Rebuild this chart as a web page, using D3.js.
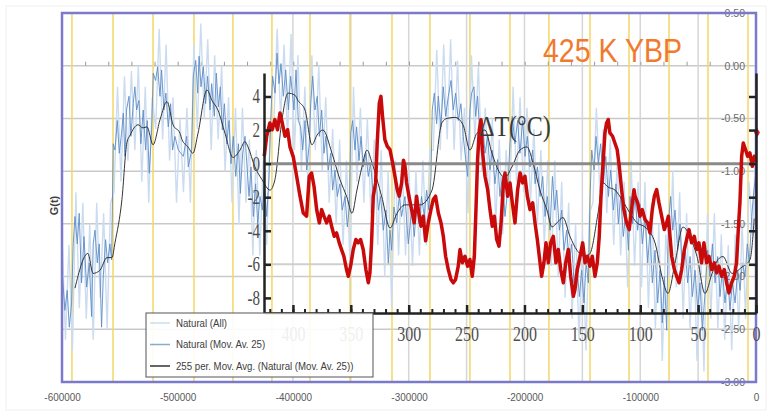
<!DOCTYPE html>
<html>
<head>
<meta charset="utf-8">
<script src="https://cdn.jsdelivr.net/npm/d3@7"></script>
<style>
	body { margin: 0; background: #fff; }
	svg { display: block; }
</style>
</head>
<body>
<div id="chart"></div>
<script>
// ---- outer chart: G(t), time in kyr (negative = past) ----
const yearTicks = [-600, -500, -400, -300, -200, -100, 0]
const gTicks = [0.5, 0, -0.5, -1, -1.5, -2, -2.5, -3]
const yellowMarks = [-591.4, -555.9, -521.3, -485.9, -452.2, -418.5, -385.6, -351.0, -314.7, -281.9, -247.3, -212.7, -179.0, -143.5, -109.8, -75.2, -41.5, -6.9]

// Natural (All), sampled every 3 kyr from -600 kyr
const natAllStart = -600
const natAllStep = 3
const natAll = [
	-1.6, -2.6, -1.7, -2.7, -1.2, -2.3, -1.3, -2.4, -1.5, -2.6, -1.3, -2.2, -1.4, -2.5, -1.3, -1.2,
	-0.2, -1.1, -0.1, -0.9, -0.05, -0.8, 0.0, -1.1, -0.2, -1.3, -0.3, -0.6, 0.35, -0.7, 0.2, -0.9,
	-0.3, -1.3, -0.5, -1.2, -0.4, -1.3, 0.2, -0.6, 0.4, -0.5, 0.25, -0.8, 0.1, -0.7, 0.0, -1.0,
	-0.3, -1.3, -0.4, -1.5, -0.4, -1.3, -0.7, -1.8, -0.8, -1.8, -0.9, -1.7, -0.6, -0.6, 0.35, -0.5,
	0.2, -0.7, 0.3, -0.8, 0.1, -1.0, -0.2, -1.3, 0.1, -0.8, 0.0, -1.0, -0.3, -1.3, -0.6, -1.5,
	-0.7, -1.7, -0.9, -1.9, -0.2, -1.1, -0.4, -1.3, -0.5, -1.4, -0.7, -1.7, -0.8, -2.0, -1.0, -2.3,
	-0.9, -1.8, -0.9, -1.8, -1.0, -1.9, -1.0, -1.8, -0.9, -1.7, -0.8, -0.8, 0.15, -0.8, 0.2, -0.7,
	0.25, -0.8, 0.05, -0.9, -0.4, -1.4, 0.1, -0.7, 0.0, -1.0, -0.4, -1.3, -0.5, -1.5, -0.7, -1.6,
	-0.8, -1.3, -0.2, -1.1, -0.3, -1.2, -0.4, -1.3, -0.6, -1.5, -0.8, -1.7, -0.9, -1.9, -0.9, -2.0,
	-1.1, -2.2, -1.3, -2.4, -1.5, -2.6, -1.6, -2.7, -1.4, -1.3, -0.4, -1.2, -0.6, -1.4, -0.7, -1.7,
	-0.9, -1.8, -1.1, -2.1, -0.9, -1.9, -1.1, -2.1, -1.1, -2.3, -1.3, -2.5, -1.5, -2.8, -1.6, -2.0,
	-1.0, -2.1, -1.2, -2.4, -1.4, -2.5, -1.6, -2.8, -1.7, -2.9, -1.4, -2.4, -1.4, -2.5, -1.6, -2.6,
	-1.7, -2.7, -1.6, -2.5, -1.5, -2.4, -1.1, -1.6, -0.7,
]

// Natural (Mov. Av. 25): [kyr, G]
const natMA25 = [
	[-600.4, -1.87], [-597.5, -2.32], [-595.5, -2.13], [-593.7, -2.48], [-591.7, -2.25], [-590.3, -1.69], [-588.8, -1.43], [-586.8, -1.69],
	[-585.1, -1.40], [-583.1, -2.06], [-581.0, -1.62], [-578.7, -2.10], [-576.4, -1.87], [-574.4, -2.38], [-573.0, -1.69], [-571.5, -1.56],
	[-569.5, -1.87], [-567.8, -1.69], [-565.8, -2.48], [-564.3, -2.00], [-562.3, -1.65], [-560.6, -1.87], [-558.6, -1.69], [-557.1, -1.84],
	[-555.7, -0.74], [-554.2, -0.80], [-552.2, -0.52], [-550.5, -0.83], [-548.5, -0.64], [-547.0, -0.45], [-545.6, -0.86], [-544.2, -0.42],
	[-542.1, -0.29], [-540.4, -0.67], [-538.4, -0.36], [-537.0, -0.20], [-535.5, -0.42], [-533.5, -0.33], [-531.8, -0.74], [-529.8, -0.42],
	[-527.7, -0.80], [-526.3, -0.52], [-524.6, -1.02], [-522.5, -0.61], [-521.1, -0.07], [-519.1, -0.14], [-517.3, -0.01], [-515.3, -0.29],
	[-513.9, -0.04], [-511.9, -0.42], [-510.2, -0.26], [-508.1, -0.58], [-506.1, -0.36], [-504.4, -0.80], [-502.4, -0.67], [-499.4, -0.80],
	[-495.1, -0.86], [-492.2, -0.67], [-490.8, -0.96], [-487.9, -0.80], [-486.5, -0.10], [-484.4, 0.05], [-482.7, -0.26], [-481.5, 0.09],
	[-479.8, -0.20], [-477.8, -0.01], [-475.8, -0.36], [-474.1, -0.10], [-472.0, -0.42], [-470.6, -0.17], [-468.3, -0.48], [-466.6, -0.07],
	[-464.8, -0.39], [-463.1, -0.20], [-461.4, -0.61], [-459.6, -0.36], [-457.6, -0.74], [-455.6, -0.52], [-453.9, -0.93], [-451.9, -0.67],
	[-449.8, -1.05], [-447.5, -0.74], [-445.8, -1.21], [-443.8, -0.83], [-441.8, -0.67], [-439.8, -0.99], [-438.3, -1.24], [-436.6, -0.96],
	[-434.6, -1.43], [-432.6, -1.12], [-430.8, -1.50], [-428.8, -1.24], [-426.8, -1.37], [-425.1, -1.12], [-423.0, -1.43], [-421.0, -1.05],
	[-419.6, -0.52], [-417.9, -0.10], [-415.8, -0.26], [-414.1, 0.12], [-412.4, -0.17], [-410.7, 0.02], [-408.6, -0.29], [-406.6, -0.04],
	[-404.3, -0.42], [-402.3, -0.10], [-399.4, -0.42], [-397.7, -0.04], [-395.7, -0.52], [-393.7, -0.58], [-391.9, -0.80], [-389.9, -0.52],
	[-388.5, -0.99], [-386.2, -0.74], [-385.0, -0.36], [-383.3, -0.10], [-381.3, -0.42], [-379.3, -0.29], [-377.5, -0.67], [-375.5, -0.42],
	[-373.5, -0.83], [-371.8, -0.67], [-369.8, -0.99], [-367.7, -0.83], [-366.0, -1.18], [-364.0, -0.99], [-362.0, -1.24], [-359.7, -1.12],
	[-357.7, -1.37], [-355.3, -1.24], [-353.3, -1.53], [-351.6, -1.34], [-350.4, -0.64], [-348.7, -0.52], [-346.7, -0.80], [-345.3, -0.58],
	[-343.2, -0.90], [-341.5, -0.67], [-339.5, -0.96], [-337.2, -0.83], [-335.2, -1.05], [-333.2, -0.93], [-330.9, -1.24], [-328.6, -1.05],
	[-326.5, -1.37], [-324.5, -1.24], [-322.2, -1.56], [-319.9, -1.37], [-317.9, -1.88], [-316.4, -1.56], [-315.0, -1.75], [-313.0, -1.34],
	[-310.7, -1.49], [-308.4, -1.24], [-306.4, -1.43], [-303.5, -1.24], [-300.6, -1.69], [-297.7, -1.37], [-295.4, -1.62], [-293.4, -1.31],
	[-291.4, -1.50], [-289.1, -1.24], [-286.8, -1.43], [-284.8, -1.18], [-282.8, -1.37], [-281.0, -1.05], [-279.9, -0.42], [-278.1, -0.26],
	[-276.1, -0.55], [-274.7, -0.29], [-272.4, -0.58], [-270.4, -0.20], [-268.3, -0.48], [-266.0, -0.29], [-263.7, -0.14], [-261.7, -0.42],
	[-259.7, -0.26], [-257.4, -0.52], [-255.1, -0.36], [-253.1, -0.67], [-251.0, -0.89], [-249.3, -1.05], [-247.3, -0.42], [-245.9, -0.26],
	[-243.8, -0.20], [-242.4, -0.48], [-240.7, -0.29], [-238.7, -0.67], [-236.6, -0.52], [-234.3, -0.83], [-232.0, -0.67], [-230.0, -0.99],
	[-228.0, -0.80], [-225.7, -1.12], [-223.4, -0.89], [-221.4, -1.24], [-219.3, -1.05], [-217.0, -1.43], [-214.7, -1.18], [-212.7, -0.74],
	[-210.7, -0.48], [-208.4, -0.74], [-206.1, -0.52], [-204.1, -0.83], [-201.7, -0.52], [-199.7, -0.86], [-197.7, -0.67], [-195.4, -0.96],
	[-193.0, -0.80], [-191.0, -1.12], [-189.0, -0.96], [-186.7, -1.24], [-184.4, -1.05], [-182.4, -1.43], [-180.4, -1.24], [-178.1, -1.56],
	[-176.0, -1.05], [-174.0, -1.37], [-172.3, -1.18], [-170.0, -1.56], [-168.0, -1.37], [-166.0, -1.75], [-163.7, -1.56], [-161.3, -1.87],
	[-159.3, -1.69], [-157.3, -2.06], [-155.0, -1.87], [-152.7, -2.19], [-150.7, -1.94], [-148.7, -2.25], [-146.9, -1.87], [-144.9, -2.06],
	[-143.5, -1.24], [-142.0, -0.80], [-140.0, -0.99], [-138.3, -0.67], [-136.3, -0.93], [-134.3, -0.74], [-132.0, -1.12], [-129.9, -0.86],
	[-127.6, -1.24], [-125.6, -0.99], [-123.3, -1.37], [-121.0, -1.12], [-119.0, -1.50], [-117.0, -1.24], [-114.7, -1.62], [-112.4, -1.37],
	[-110.3, -1.75], [-108.9, -1.24], [-106.6, -1.50], [-104.6, -1.24], [-102.3, -1.56], [-100.3, -1.31], [-98.3, -1.69], [-96.0, -1.43],
	[-93.6, -1.87], [-91.6, -1.56], [-89.6, -2.06], [-87.3, -1.75], [-85.0, -2.25], [-83.0, -1.94], [-81.0, -2.44], [-79.2, -2.00],
	[-77.2, -2.51], [-75.8, -1.50], [-73.8, -1.24], [-72.0, -1.56], [-70.0, -1.37], [-67.7, -1.75], [-65.7, -1.50], [-63.7, -1.94],
	[-61.4, -1.69], [-59.1, -2.06], [-57.0, -1.81], [-55.0, -2.19], [-52.7, -1.94], [-50.4, -2.32], [-48.4, -2.06], [-46.4, -2.51],
	[-44.1, -2.16], [-41.8, -1.75], [-39.8, -2.00], [-37.7, -1.69], [-35.4, -2.06], [-33.1, -1.81], [-31.1, -2.19], [-29.1, -1.94],
	[-26.8, -2.25], [-24.5, -2.00], [-22.5, -2.32], [-20.4, -2.06], [-18.1, -2.25], [-15.8, -1.94], [-13.8, -2.13], [-11.8, -1.87],
	[-9.5, -2.00], [-7.5, -1.69], [-5.8, -1.87], [-3.7, -1.43], [-2.3, -1.24], [-0.5, -1.05],
]

// 255 per. Mov. Avg. (Natural (Mov. Av. 25)): [kyr, G]
const natMA255 = [
	[-588.8, -2.11], [-577.6, -1.78], [-573.2, -1.97], [-567.2, -1.94], [-561.1, -1.82], [-556.8, -1.82], [-554.2, -1.68], [-548.2, -1.27],
	[-543.9, -0.73], [-541.2, -0.66], [-534.3, -0.56], [-530.0, -0.59], [-526.5, -0.58], [-521.3, -0.75], [-515.2, -0.51], [-509.2, -0.34],
	[-504.0, -0.56], [-498.0, -0.64], [-496.3, -0.70], [-491.1, -0.77], [-486.8, -0.83], [-482.4, -0.64], [-474.7, -0.23], [-470.3, -0.33],
	[-465.2, -0.42], [-459.1, -0.64], [-452.2, -0.87], [-446.1, -0.80], [-441.8, -0.72], [-439.2, -0.77], [-433.2, -0.96], [-427.1, -1.08],
	[-420.2, -1.18], [-415.9, -1.08], [-409.8, -0.51], [-404.6, -0.26], [-398.6, -0.28], [-396.0, -0.33], [-389.9, -0.42], [-383.9, -0.75],
	[-379.6, -0.66], [-374.4, -0.61], [-366.6, -0.83], [-359.7, -1.08], [-353.6, -1.25], [-349.3, -1.40], [-345.0, -1.18], [-340.7, -0.96],
	[-336.3, -0.80], [-332.0, -0.92], [-323.4, -1.25], [-316.4, -1.54], [-310.4, -1.40], [-303.5, -1.32], [-290.5, -1.32], [-280.1, -1.18],
	[-271.5, -0.54], [-267.2, -0.50], [-260.2, -0.49], [-253.3, -0.56], [-247.3, -0.80], [-241.2, -0.64], [-234.3, -0.61], [-228.3, -0.83],
	[-221.3, -1.02], [-217.0, -1.06], [-211.0, -0.96], [-204.1, -0.80], [-198.0, -0.77], [-192.8, -0.92], [-186.8, -1.18], [-180.7, -1.37],
	[-176.4, -1.53], [-172.1, -1.49], [-166.9, -1.44], [-160.8, -1.62], [-154.8, -1.75], [-147.8, -1.81], [-143.5, -1.78], [-136.6, -1.40],
	[-132.3, -1.11], [-128.0, -1.15], [-121.9, -1.18], [-115.9, -1.27], [-108.9, -1.40], [-102.9, -1.49], [-96.0, -1.53], [-87.3, -1.68],
	[-81.3, -2.00], [-76.1, -2.16], [-70.0, -1.87], [-63.1, -1.53], [-57.1, -1.62], [-51.0, -1.81], [-44.1, -2.16], [-38.0, -1.97],
	[-32.9, -1.84], [-28.5, -1.81], [-20.8, -1.97], [-12.1, -1.91], [-5.2, -1.84], [-1.5, -1.45],
]

// ---- inset: temperature anomaly, kyr before present ----
const kyrBPTicks = [400, 350, 300, 250, 200, 150, 100, 50, 0]
const dtTicks = [4, 2, 0, -2, -4, -6, -8]
const dtGrid = [-6]
const presentDT = 1.85

// ΔT (°C): [kyr BP, ΔT]
const deltaT = [
	[424.8, 0.44], [422.7, 1.63], [419.9, 2.42], [417.9, 2.02], [415.6, 2.62], [413.3, 2.02], [411.2, 3.02], [409.2, 2.42],
	[406.9, 1.63], [404.6, 2.02], [402.6, 1.0], [399.7, 0.4], [396.8, -0.75], [393.9, -1.94], [391.1, -2.94], [388.2, -3.13],
	[385.9, -0.75], [383.9, -0.56], [381.8, -1.35], [379.5, -2.74], [377.2, -3.53], [375.2, -2.74], [373.2, -3.13], [370.9, -3.53],
	[368.6, -3.13], [366.6, -3.73], [364.3, -4.33], [362.3, -4.13], [360.0, -4.72], [358.0, -5.12], [356.0, -5.52], [353.7, -6.31],
	[352.2, -6.71], [350.2, -6.11], [347.9, -5.12], [345.6, -4.52], [343.6, -4.72], [341.6, -4.52], [339.3, -5.12], [337.0, -6.31],
	[334.9, -7.10], [333.5, -6.51], [332.1, -4.72], [330.6, -1.94], [328.6, -1.15], [327.2, 1.23], [325.4, 3.61], [324.0, 4.01],
	[322.6, 2.82], [320.6, 1.43], [318.5, 1.03], [316.2, 0.83], [313.9, 0.04], [311.9, -0.75], [309.9, -1.55], [308.2, -1.94],
	[306.1, -1.15], [304.5, 0.2], [303.2, -0.16], [301.8, -1.15], [299.8, -1.94], [297.5, -2.74], [295.2, -3.53], [293.2, -1.94],
	[291.7, -2.74], [289.4, -3.73], [287.4, -3.13], [285.4, -4.6], [283.1, -3.53], [280.8, -2.74], [278.8, -2.14], [276.8, -1.94],
	[274.4, -2.94], [272.1, -3.53], [270.1, -4.33], [268.1, -5.52], [265.8, -6.31], [263.5, -6.90], [261.5, -7.10], [259.5, -6.90],
	[257.2, -6.11], [255.7, -5.12], [253.7, -5.91], [251.4, -5.52], [249.1, -6.11], [247.1, -5.71], [245.1, -6.71], [243.3, -5.52],
	[241.9, -2.74], [240.5, 0.24], [239.0, 2.02], [237.6, 2.62], [236.4, 0.83], [234.1, -0.75], [231.8, -1.55], [229.8, -2.74],
	[227.8, -3.73], [226.0, -3.13], [224.0, -4.52], [222.0, -4.92], [220.2, -3.53], [218.2, -1.15], [216.8, -0.56], [214.5, -1.94],
	[212.5, -1.15], [210.5, -2.34], [208.2, -3.53], [205.9, -1.55], [203.8, -0.56], [201.6, -1.15], [199.6, -0.75], [197.5, -1.94],
	[195.2, -2.74], [192.9, -2.34], [190.9, -3.53], [188.9, -4.52], [187.2, -5.52], [185.2, -6.71], [183.2, -5.91], [181.4, -4.72],
	[179.4, -5.91], [177.4, -4.72], [175.1, -4.33], [172.8, -5.91], [170.8, -5.12], [168.7, -6.31], [166.4, -7.10], [164.4, -5.91],
	[162.1, -5.12], [160.1, -6.71], [157.8, -7.90], [156.4, -7.50], [154.3, -6.31], [152.0, -5.52], [149.7, -4.72], [147.7, -5.91],
	[145.7, -5.52], [143.4, -6.11], [141.4, -5.52], [139.1, -6.71], [137.1, -5.91], [135.4, -4.33], [133.9, -1.94], [131.9, 0.24],
	[130.5, 1.83], [129.1, 2.42], [127.6, 2.62], [126.2, 1.83], [123.9, 1.63], [121.9, 1.23], [119.9, 0.83], [118.1, -0.16],
	[116.1, -1.55], [114.1, -2.74], [111.8, -3.53], [109.5, -3.93], [107.5, -2.74], [105.4, -1.55], [104.5, -1.94], [102.2, -2.34],
	[100.2, -3.13], [98.2, -2.74], [95.9, -3.33], [93.6, -3.53], [91.6, -4.13], [89.6, -2.74], [87.8, -1.94], [85.8, -1.55],
	[83.8, -2.34], [81.5, -3.13], [79.2, -3.93], [77.2, -3.53], [75.7, -3.13], [74.3, -4.33], [72.8, -5.52], [70.5, -6.31],
	[68.5, -6.71], [66.5, -7.10], [64.2, -6.31], [61.9, -5.12], [59.9, -4.52], [57.9, -3.93], [55.6, -4.72], [53.3, -4.33],
	[51.3, -5.12], [49.3, -4.72], [47.0, -5.91], [45.0, -4.72], [42.7, -5.91], [40.6, -5.52], [38.3, -6.31], [36.0, -5.91],
	[34.0, -6.51], [32.0, -6.11], [29.7, -6.71], [27.4, -6.31], [25.4, -7.10], [23.4, -7.70], [21.1, -7.10], [18.8, -6.71],
	[16.8, -5.91], [15.3, -3.93], [13.9, -2.34], [12.4, 0.44], [11.0, 1.23], [9.0, 0.83], [7.3, 0.44], [5.3, 0.64],
	[3.2, -0.16], [1.5, 0.44], [0.3, 0.1],
]

const legendLabels = ['Natural (All)', 'Natural (Mov. Av. 25)', '255 per. Mov. Avg. (Natural (Mov. Av. 25))']
const legendColors = ['#cbdcf0', '#86a9d6', '#333333']

// -------------------------

const width = 773
const height = 415
const plot = { left: 62, right: 756, top: 13, bottom: 382 }
const inset = { left: 264, right: 756, top: 73, bottom: 313 }

const svg = d3.select('#chart').append('svg').attr('width', width).attr('height', height)

// make text narrower, the source picture is stretched vertically
function squish(sel, k) {
	sel.each(function () {
		const w = this.getComputedTextLength()
		d3.select(this).attr('textLength', w * k).attr('lengthAdjust', 'spacingAndGlyphs')
	})
}

const x = d3.scaleLinear().domain([-600, 0]).range([plot.left, plot.right])
const y = d3.scaleLinear().domain([-3, 0.5]).range([plot.bottom, plot.top])
const xIn = d3.scaleLinear().domain([425, 0]).range([inset.left, inset.right])
const yIn = d3.scaleLinear().domain([-8.9, 5.4]).range([inset.bottom, inset.top])

svg.append('rect').attr('x', 6).attr('y', 6).attr('width', 760).attr('height', 404)
	.attr('fill', 'none').attr('stroke', '#f0f0f0')

// grid --------------------
const grid = svg.append('g').attr('id', 'grid')

grid.selectAll('line.h')
	.data(gTicks.filter(d => d < 0.5 && d > -3))
	.join('line')
	.attr('x1', plot.left).attr('x2', plot.right)
	.attr('y1', d => y(d)).attr('y2', d => y(d))
	.attr('stroke', '#c9c9c9').attr('stroke-width', 1.5)

// inset grid (every 50 kyr) runs through the whole plot
grid.selectAll('line.v')
	.data(kyrBPTicks.filter(d => d > 0))
	.join('line')
	.attr('x1', d => xIn(d)).attr('x2', d => xIn(d))
	.attr('y1', plot.top).attr('y2', plot.bottom)
	.attr('stroke', '#d6d6d6').attr('stroke-width', 1.5)

grid.selectAll('line.y')
	.data(yellowMarks)
	.join('line')
	.attr('x1', d => x(d)).attr('x2', d => x(d))
	.attr('y1', plot.top).attr('y2', plot.bottom)
	.attr('stroke', '#f3d766').attr('stroke-width', 1.5)

// small ticks on the 0.00 line
svg.append('g')
	.attr('transform', `translate(0,${y(0)})`)
	.call(d3.axisBottom(x).tickValues(d3.range(-600, 1, 20)).tickSize(-4).tickFormat(''))
	.call(g => g.select('.domain').remove())
	.call(g => g.selectAll('line').attr('stroke', '#9a9a9a'))

// outer series ------------
const outer = svg.append('g').attr('id', 'outer')
const line = d3.line().x(d => x(d[0])).y(d => y(d[1]))

outer.append('path')
	.datum(natAll.map((v, i) => [natAllStart + i * natAllStep, v]))
	.attr('d', line)
	.attr('fill', 'none').attr('stroke', legendColors[0]).attr('stroke-width', 1.4)

outer.append('path')
	.datum(natMA25)
	.attr('d', line)
	.attr('fill', 'none').attr('stroke', '#5d8cc5').attr('stroke-width', 0.9)

outer.append('path')
	.datum(natMA255)
	.attr('d', line.curve(d3.curveMonotoneX))
	.attr('fill', 'none').attr('stroke', legendColors[2]).attr('stroke-width', 1)

// outer axes --------------
svg.append('g')
	.attr('transform', `translate(0,${plot.bottom})`)
	.call(d3.axisBottom(x).tickValues(yearTicks).tickSize(0).tickPadding(11).tickFormat(d => String(d * 1000)))
	.call(g => g.select('.domain').remove())
	.call(g => g.selectAll('text').attr('fill', '#595959').attr('font-size', 11)
		.attr('font-family', 'Liberation Sans, Arial, sans-serif'))
	.call(g => squish(g.selectAll('text'), 0.9))

svg.append('g')
	.attr('transform', 'translate(745,0)')
	.call(d3.axisLeft(y).tickValues(gTicks).tickSize(0).tickPadding(0).tickFormat(d => d.toFixed(2)))
	.call(g => g.select('.domain').remove())
	.call(g => g.selectAll('text').attr('fill', '#6a6a6a').attr('font-size', 10.5)
		.attr('font-family', 'Liberation Sans, Arial, sans-serif'))

svg.append('text')
	.attr('transform', `translate(58,${(plot.top + plot.bottom) / 2 + 8}) rotate(-90)`)
	.attr('text-anchor', 'middle')
	.attr('font-family', 'Liberation Sans, Arial, sans-serif')
	.attr('font-weight', 'bold').attr('font-size', 11).attr('fill', '#404040')
	.text('G(t)')

// plot border
svg.append('rect')
	.attr('x', plot.left).attr('y', plot.top)
	.attr('width', plot.right - plot.left).attr('height', plot.bottom - plot.top)
	.attr('fill', 'none').attr('stroke', '#7b79c9').attr('stroke-width', 2.5)

// inset -------------------
const inner = svg.append('g').attr('id', 'inset')

inner.selectAll('line.g6')
	.data(dtGrid)
	.join('line')
	.attr('x1', inset.left).attr('x2', inset.right)
	.attr('y1', d => yIn(d)).attr('y2', d => yIn(d))
	.attr('stroke', '#cfcfcf').attr('stroke-width', 2)

inner.append('line')
	.attr('x1', inset.left).attr('x2', inset.right)
	.attr('y1', yIn(0)).attr('y2', yIn(0))
	.attr('stroke', '#8a8a8a').attr('stroke-width', 3)

inner.append('path')
	.datum(deltaT)
	.attr('d', d3.line().x(d => xIn(d[0])).y(d => yIn(d[1])))
	.attr('fill', 'none').attr('stroke', '#c80a0a').attr('stroke-width', 3.5)
	.attr('stroke-linejoin', 'round')

inner.append('path')
	.attr('transform', `translate(${xIn(0) + 1},${yIn(presentDT)})`)
	.attr('d', d3.symbol(d3.symbolDiamond, 30))
	.attr('fill', '#e0202a')

const serif = 'Liberation Serif, Times New Roman, serif'

// minor ticks every 10 kyr
inner.append('g')
	.attr('transform', `translate(0,${inset.bottom})`)
	.call(d3.axisBottom(xIn).tickValues(d3.range(0, 426, 10)).tickSize(-4).tickSizeOuter(0).tickFormat(''))
	.call(g => g.select('.domain').remove())
	.call(g => g.selectAll('line').attr('stroke', '#222').attr('stroke-width', 2))

inner.append('g')
	.attr('transform', `translate(0,${inset.bottom})`)
	.call(d3.axisBottom(xIn).tickValues(kyrBPTicks).tickSize(-8).tickSizeOuter(0).tickPadding(14))
	.call(g => g.select('.domain').attr('stroke', '#222').attr('stroke-width', 2.5))
	.call(g => g.selectAll('line').attr('stroke', '#222').attr('stroke-width', 2.5))
	.call(g => g.selectAll('text').attr('fill', '#505050').attr('font-size', 20).attr('font-family', serif))
	.call(g => squish(g.selectAll('text'), 0.8))

inner.append('g')
	.attr('transform', `translate(${inset.left},0)`)
	.call(d3.axisLeft(yIn).tickValues(dtTicks).tickSize(-7).tickSizeOuter(0).tickPadding(4)
		.tickFormat(d => (d < 0 ? '-' + -d : String(d))))
	.call(g => g.select('.domain').attr('stroke', '#222').attr('stroke-width', 2.5))
	.call(g => g.selectAll('line').attr('stroke', '#222').attr('stroke-width', 2.5))
	.call(g => g.selectAll('text').attr('fill', '#4a4a4a').attr('font-size', 20).attr('font-family', serif))
	.call(g => squish(g.selectAll('text'), 0.75))

inner.append('g')
	.attr('transform', `translate(${inset.right},0)`)
	.call(d3.axisRight(yIn).tickValues(dtTicks).tickSize(-7).tickSizeOuter(0).tickFormat(''))
	.call(g => g.select('.domain').attr('stroke', '#222').attr('stroke-width', 2.5))
	.call(g => g.selectAll('line').attr('stroke', '#222').attr('stroke-width', 2.5))

inner.append('text')
	.attr('x', 479).attr('y', 136)
	.attr('font-family', serif).attr('font-size', 30).attr('fill', '#3a3a3a')
	.text('ΔT(°C)')
	.call(t => squish(t, 0.8))

// legend ------------------
const legend = svg.append('g').attr('id', 'legend').attr('transform', 'translate(146,313)')

legend.append('rect')
	.attr('width', 227).attr('height', 64)
	.attr('fill', '#fff').attr('fill-opacity', 0.9)
	.attr('stroke', '#555').attr('stroke-width', 1)

const rows = legend.selectAll('g')
	.data(legendLabels)
	.join('g')
	.attr('transform', (_, i) => `translate(0,${10 + i * 21.5})`)

rows.append('line')
	.attr('x1', 4).attr('x2', 24)
	.attr('stroke', (_, i) => legendColors[i]).attr('stroke-width', 1.5)

rows.append('text')
	.attr('x', 30).attr('dy', '0.35em')
	.attr('font-family', 'Liberation Sans, Arial, sans-serif')
	.attr('font-size', 10.5).attr('fill', '#404040')
	.text(d => d)
	.call(t => squish(t, 0.92))

// title tag
svg.append('text')
	.attr('x', 543).attr('y', 62)
	.attr('font-family', 'Liberation Sans, Arial, sans-serif')
	.attr('font-size', 33).attr('fill', '#f07a30')
	.attr('textLength', 139).attr('lengthAdjust', 'spacingAndGlyphs')
	.text('425 K YBP')
</script>
</body>
</html>
